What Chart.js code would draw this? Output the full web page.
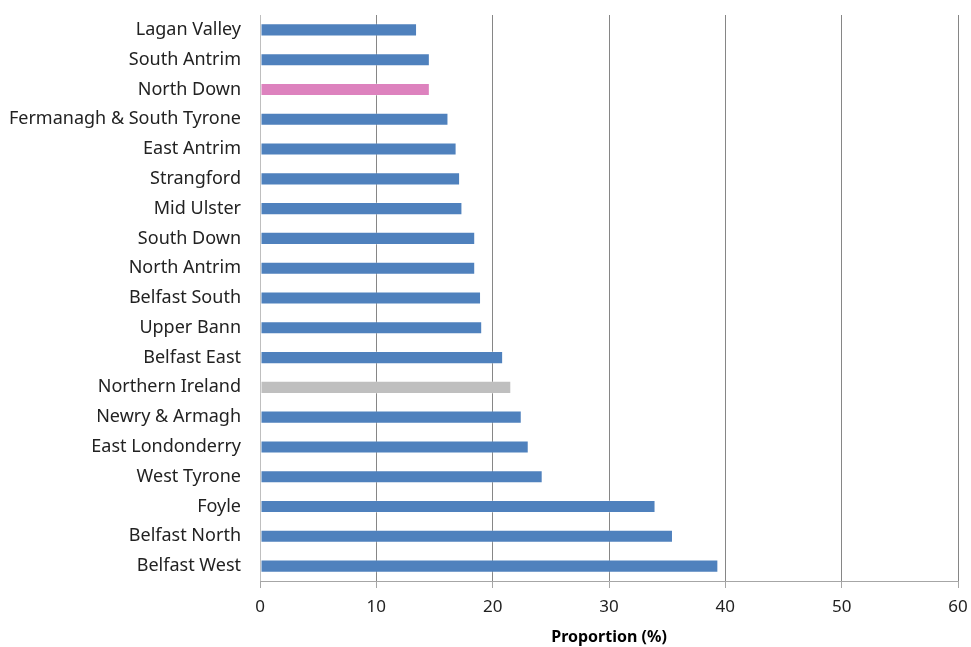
<!DOCTYPE html>
<html>
<head>
<meta charset="utf-8">
<script src="https://cdn.jsdelivr.net/npm/chart.js@4"></script>
<style>
  html, body { margin: 0; padding: 0; background: #fff; }
  #wrap { width: 971px; height: 647px; }
</style>
</head>
<body>
<div id="wrap"><canvas id="chart"></canvas></div>
<script>
// Constituencies, top to bottom as in the picture
const constituencies = [
    'Lagan Valley', 'South Antrim', 'North Down', 'Fermanagh & South Tyrone',
    'East Antrim', 'Strangford', 'Mid Ulster', 'South Down', 'North Antrim',
    'Belfast South', 'Upper Bann', 'Belfast East', 'Northern Ireland',
    'Newry & Armagh', 'East Londonderry', 'West Tyrone', 'Foyle',
    'Belfast North', 'Belfast West'
];

// Proportion (%)
const proportions = [
    13.5, 14.6, 14.6, 16.2,
    16.9, 17.2, 17.4, 18.5, 18.5,
    19.0, 19.1, 20.9, 21.6,
    22.5, 23.1, 24.3, 34.0,
    35.5, 39.4
];

const xTicks = [0, 10, 20, 30, 40, 50, 60];

function barColour(name) {
    if (name === 'North Down') return '#DD82BE';
    if (name === 'Northern Ireland') return '#BFBFBF';
    return '#4F81BD';
}

const font = "'Noto Sans', sans-serif";

new Chart(document.getElementById('chart').getContext('2d'), {
    type: 'bar',
    data: {
        labels: constituencies,
        datasets: [{
            label: 'Proportion (%)',
            data: proportions,
            backgroundColor: constituencies.map(barColour),
            borderColor: 'rgba(255,255,255,0.25)',
            borderWidth: 1,
            borderSkipped: false,
            categoryPercentage: 1,
            barPercentage: 0.44
        }]
    },
    options: {
        indexAxis: 'y',
        responsive: true,
        maintainAspectRatio: false,
        animation: false,
        layout: { padding: { top: 15, right: 13, left: 0, bottom: 0 } },
        scales: {
            x: {
                min: 0,
                max: 60,
                afterBuildTicks: axis => { axis.ticks = xTicks.map(v => ({ value: v })); },
                afterFit: axis => {
                    axis.height = 66;
                    axis.paddingLeft = 0;
                    axis.paddingRight = 0;
                },
                grid: {
                    color: c => c.index === 0 ? '#BFBFBF' : '#868686',
                    tickLength: 7,
                    tickColor: '#A6A6A6'
                },
                border: { color: '#A6A6A6' },
                ticks: {
                    color: '#222',
                    font: { family: font, size: 17 },
                    padding: 9
                },
                title: {
                    display: true,
                    text: 'Proportion (%)',
                    color: '#000',
                    font: { family: font, size: 16, weight: 'bold' },
                    padding: { top: 0, bottom: 0 }
                }
            },
            y: {
                afterFit: axis => {
                    axis.width = 260;
                    axis.paddingTop = 0;
                    axis.paddingBottom = 0;
                },
                grid: { display: false },
                border: { display: false },
                ticks: {
                    color: '#222',
                    font: { family: font, size: 18 },
                    padding: 11
                }
            }
        },
        plugins: {
            legend: { display: false },
            tooltip: { enabled: false }
        }
    }
});
</script>
</body>
</html>
